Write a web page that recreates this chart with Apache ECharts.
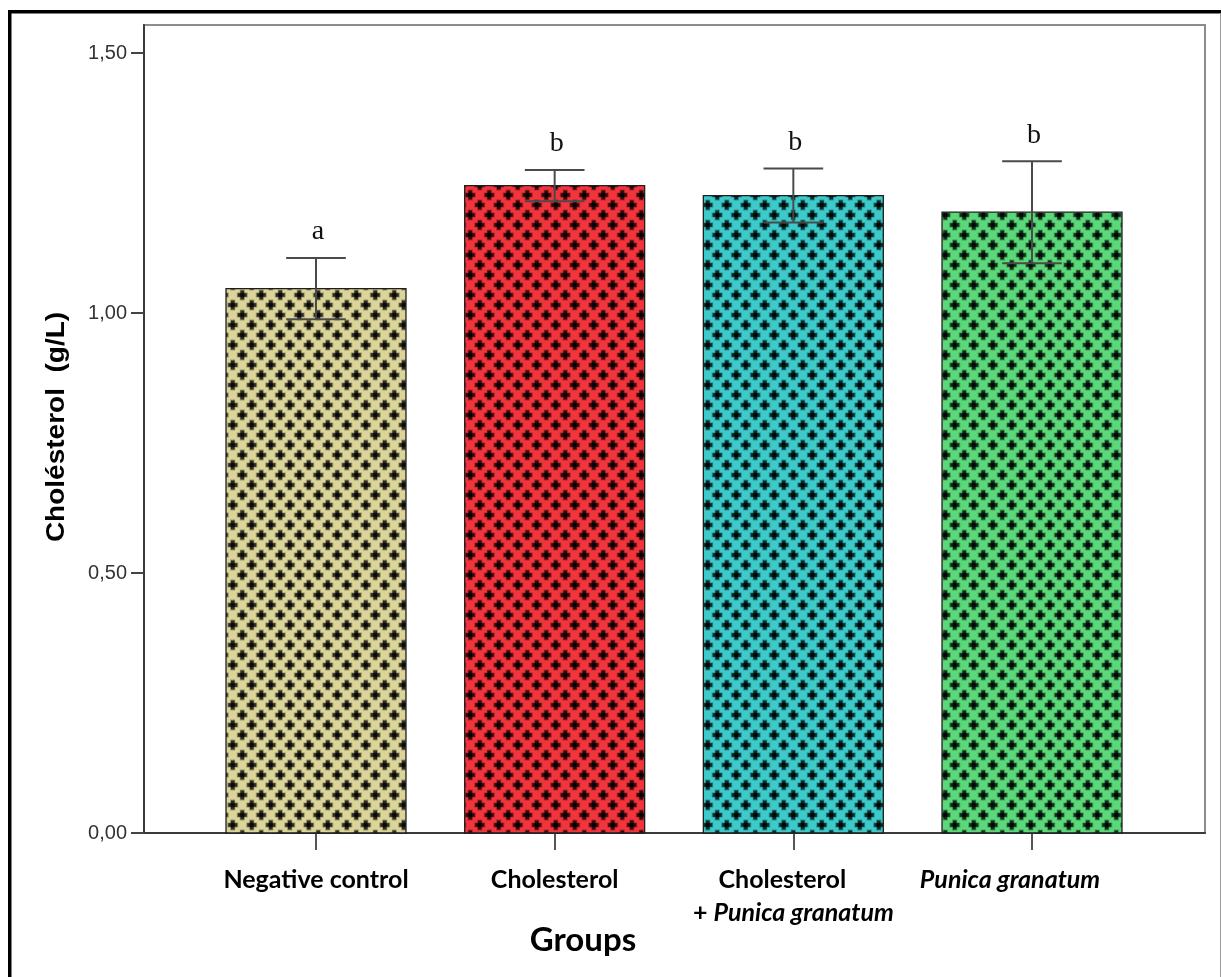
<!DOCTYPE html>
<html>
<head>
<meta charset="utf-8">
<script src="https://cdn.jsdelivr.net/npm/echarts@6/dist/echarts.min.js"></script>
<style>
html,body{margin:0;padding:0;background:#fff;}
#chart{width:1221px;height:977px;}
</style>
</head>
<body>
<div id="chart"></div>
<script>
// ---- data ----
var categories = ['Negative control', 'Cholesterol', 'Cholesterol\n+ Punica granatum', 'Punica granatum'];
var means = [1.047, 1.245, 1.226, 1.194];
var errors = [0.059, 0.030, 0.052, 0.098];
var letters = ['a', 'b', 'b', 'b'];
var yTicks = [0, 0.5, 1.0, 1.5];
var barColors = ['#dcd59a', '#f4343c', '#3ccaca', '#5bd97a'];

function makePattern(bg) {
  var c = document.createElement('canvas');
  var W = 19, H = 20;
  c.width = W; c.height = H;
  var g = c.getContext('2d');
  g.fillStyle = bg;
  g.fillRect(0, 0, W, H);
  function plus(cx, cy) {
    g.fillStyle = 'rgba(0,0,0,0.3)';
    g.fillRect(cx - 5.5, cy - 2.5, 11, 5);
    g.fillRect(cx - 2.5, cy - 5.5, 5, 11);
    g.fillStyle = 'rgba(0,0,0,0.7)';
    g.fillRect(cx - 4.5, cy - 1.8, 9, 3.6);
    g.fillRect(cx - 1.8, cy - 4.5, 3.6, 9);
  }
  var pts = [[4.75, 5], [14.25, 15]];
  pts.forEach(function (p) {
    for (var dx = -W; dx <= W; dx += W) {
      for (var dy = -H; dy <= H; dy += H) {
        plus(p[0] + dx, p[1] + dy);
      }
    }
  });
  return { image: c, repeat: 'repeat' };
}
var patterns = barColors.map(makePattern);

var chart = echarts.init(document.getElementById('chart'), null, { renderer: 'canvas' });

var barData = means.map(function (m, i) { return [i, m, errors[i]]; });
var BAR_W = 0.754;   // in category units
var CAP_W = 0.25;

var FS = 25;
var labelRich = {
  n: { fontFamily: 'Lato', fontWeight: 'bold', fontSize: FS, color: '#000', lineHeight: 33 },
  nl: { fontFamily: 'Lato', fontWeight: 'bold', fontSize: FS, color: '#000', lineHeight: 33, padding: [0, 22, 0, 0] },
  it: { fontFamily: 'Lato', fontWeight: 'bold', fontStyle: 'italic', fontSize: FS, color: '#000', lineHeight: 33 },
  itp: { fontFamily: 'Lato', fontWeight: 'bold', fontStyle: 'italic', fontSize: FS, color: '#000', lineHeight: 33, padding: [0, 44, 0, 0] }
};

function catLabel(v) {
  var i = Math.round(v);
  if (i === 0) return '{n|' + categories[0] + '}';
  if (i === 1) return '{n|' + categories[1] + '}';
  if (i === 2) {
    var parts = categories[2].split('\n');
    return '{nl|' + parts[0] + '}\n{n|+ }{it|' + parts[1].replace('+ ', '') + '}';
  }
  if (i === 3) return '{itp|' + categories[3] + '}';
  return '';
}

var option = {
  backgroundColor: '#fff',
  animation: false,
  grid: {
    left: 144, right: 16, top: 25, bottom: 144,
    show: true, borderColor: '#8c8c8c', borderWidth: 2, backgroundColor: 'transparent'
  },
  xAxis: {
    type: 'value',
    min: -0.7206, max: 3.7248,
    splitLine: { show: false },
    axisLine: { show: true, onZero: false, lineStyle: { color: '#3a3a3a', width: 2 } },
    axisTick: { show: true, customValues: [0, 1, 2, 3], length: 17, inside: false, lineStyle: { color: '#555', width: 2 } },
    axisLabel: {
      show: true, customValues: [0, 1, 2, 3], margin: 30,
      formatter: catLabel, rich: labelRich, lineHeight: 33
    }
  },
  yAxis: {
    type: 'value',
    min: 0, max: 1.554, interval: 0.5,
    splitLine: { show: false },
    axisLine: { show: true, onZero: false, lineStyle: { color: '#3a3a3a', width: 2 } },
    axisTick: { show: true, customValues: yTicks, length: 13, inside: false, lineStyle: { color: '#444', width: 2 } },
    axisLabel: {
      customValues: yTicks,
      margin: 17, fontFamily: 'Liberation Sans', fontSize: 20, color: '#333',
      formatter: function (v) { return v.toFixed(2).replace('.', ','); }
    }
  },
  graphic: [
    { type: 'line', shape: { x1: 9.75, y1: 11, x2: 9.75, y2: 977 }, style: { stroke: '#000', lineWidth: 3.5 }, silent: true },
    { type: 'line', shape: { x1: 8, y1: 11.75, x2: 1221, y2: 11.75 }, style: { stroke: '#000', lineWidth: 3.5 }, silent: true },
    { type: 'line', shape: { x1: 1220.5, y1: 13, x2: 1220.5, y2: 977 }, style: { stroke: '#9a9a9a', lineWidth: 1 }, silent: true },
    {
      type: 'text', x: 57, y: 427, rotation: Math.PI / 2, scaleX: 1.12, silent: true,
      style: { text: 'Cholésterol  (g/L)', fontFamily: 'Liberation Sans', fontWeight: 'bold', fontSize: 25, fill: '#000', align: 'center', verticalAlign: 'middle' }
    },
    {
      type: 'text', x: 583, y: 940, silent: true,
      style: { text: 'Groups', fontFamily: 'Lato', fontWeight: 'bold', fontSize: 33, fill: '#000', align: 'center', verticalAlign: 'middle' }
    }
  ],
  series: [
    {
      type: 'custom',
      data: barData,
      encode: { x: 0, y: 1 },
      z: 2,
      renderItem: function (params, api) {
        var x = api.value(0), v = api.value(1);
        var p0 = api.coord([x, 0]);
        var p1 = api.coord([x, v]);
        var w = api.size([BAR_W, 0])[0];
        return {
          type: 'rect',
          shape: { x: p1[0] - w / 2, y: p1[1], width: w, height: p0[1] - p1[1] },
          style: { fill: patterns[params.dataIndex], stroke: '#1e1e1e', lineWidth: 1.3 }
        };
      }
    },
    {
      type: 'custom',
      data: barData,
      encode: { x: 0, y: 1 },
      z: 3,
      renderItem: function (params, api) {
        var x = api.value(0), v = api.value(1), e = api.value(2);
        var pt = api.coord([x, v + e]);
        var pb = api.coord([x, v - e]);
        var cw = api.size([CAP_W, 0])[0];
        var st = { stroke: '#4a4a4a', lineWidth: 2 };
        return {
          type: 'group',
          children: [
            { type: 'line', shape: { x1: pt[0], y1: pt[1], x2: pb[0], y2: pb[1] }, style: st },
            { type: 'line', shape: { x1: pt[0] - cw / 2, y1: pt[1], x2: pt[0] + cw / 2, y2: pt[1] }, style: st },
            { type: 'line', shape: { x1: pb[0] - cw / 2, y1: pb[1], x2: pb[0] + cw / 2, y2: pb[1] }, style: st },
            {
              type: 'text', x: pt[0] + 2, y: pt[1] - 26,
              style: { text: letters[params.dataIndex], fontFamily: 'Liberation Serif', fontSize: 28, fill: '#111', align: 'center', verticalAlign: 'middle' }
            }
          ]
        };
      }
    }
  ]
};
chart.setOption(option);
</script>
</body>
</html>
